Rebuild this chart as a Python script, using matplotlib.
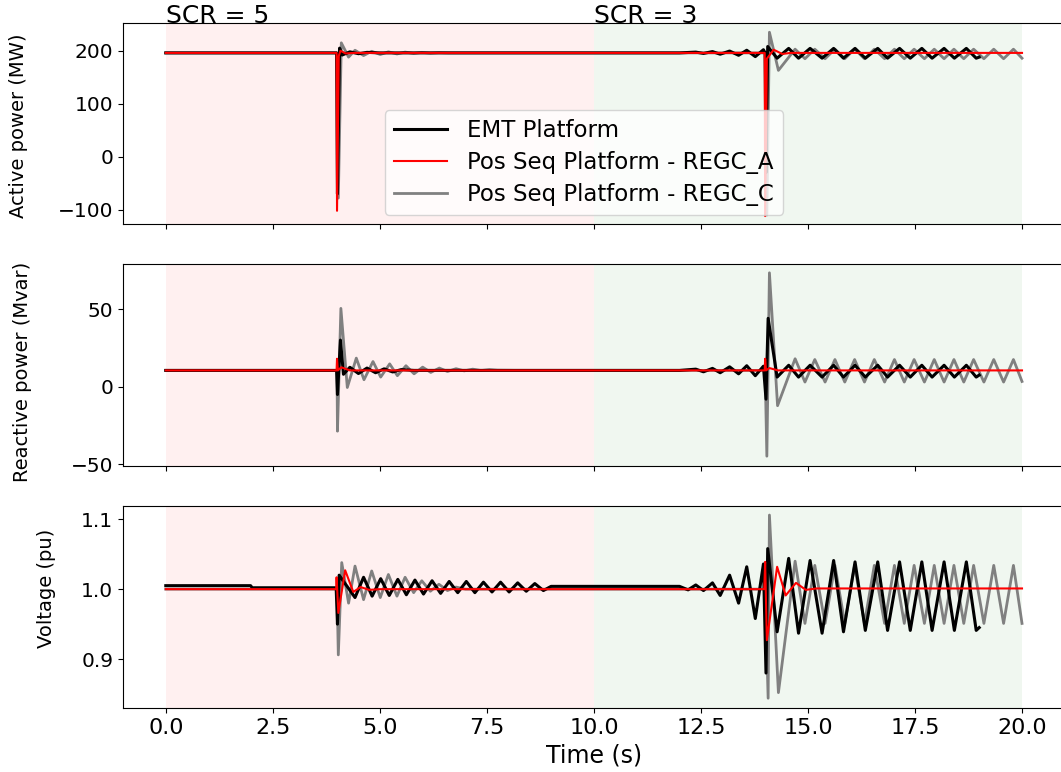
import matplotlib
matplotlib.use('Agg')
import matplotlib.pyplot as plt
import matplotlib.transforms as mtransforms
import numpy as np

# ---- data (key points: steps, spikes, peaks, troughs) ----
labels = ['EMT Platform', 'Pos Seq Platform - REGC_A', 'Pos Seq Platform - REGC_C']
scr_labels = ['SCR = 5', 'SCR = 3']
scr_start = [0.0, 10.0]
scr_end = [10.0, 20.0]
xticks = [0.0, 2.5, 5.0, 7.5, 10.0, 12.5, 15.0, 17.5, 20.0]

# active power (MW)
p_emt_t = [0.0, 3.99, 4.01, 4.06, 4.12, 4.30, 4.50, 4.70, 5.00, 12.0, 12.38, 12.56, 12.77, 12.95, 13.17,
           13.38, 13.57, 13.77, 13.96, 14.00, 14.02, 14.06, 14.28, 14.55, 14.78, 15.05, 15.33, 15.60,
           15.83, 16.10, 16.34, 16.63, 16.86, 17.14, 17.39, 17.66, 17.90, 18.18, 18.42, 18.70, 18.93, 19.00]
p_emt = [196, 196, -70, 205, 192, 198, 194.5, 197, 196, 196, 197.5, 195, 198.5, 193.5, 199.5,
         191.5, 201, 189, 202, 196, -30, 208, 186, 204.5, 186, 204.5, 186, 204.5,
         186, 204.5, 186, 204.5, 186, 204.5, 186, 204.5, 186, 204.5, 186, 204.5, 186, 188]
p_rega_t = [0.0, 3.99, 4.00, 4.04, 4.08, 4.20, 4.40, 13.99, 14.00, 14.04, 14.20, 14.40, 14.60, 20.0]
p_rega = [196, 196, -102, 190, 200, 195, 196, 196, -112, 185, 202, 194, 196, 196]
p_regc_t = [0.0, 4.00, 4.03, 4.10, 4.27, 4.42, 4.62, 4.81, 5.01, 5.20, 5.40, 5.59, 5.79, 5.98, 6.18,
            6.38, 6.60, 14.00, 14.04, 14.10, 14.31, 14.70, 14.93, 15.16, 15.40, 15.63, 15.86, 16.09,
            16.32, 16.55, 16.79, 17.02, 17.25, 17.48, 17.72, 17.95, 18.18, 18.41, 18.64, 18.87, 19.11,
            19.34, 19.57, 19.80, 20.00]
p_regc = [196, 196, -78, 215, 188, 201, 191, 199, 193, 198, 194, 197.5, 195, 197, 195.5,
          196.5, 196, 196, -110, 235, 163, 203, 185, 203, 185, 203, 185, 203,
          185, 203, 185, 203, 185, 203, 185, 203, 185, 203, 185, 203, 185,
          203, 185, 203, 186]

# reactive power (Mvar)
q_emt_t = [0.0, 3.99, 4.01, 4.08, 4.15, 4.30, 4.50, 4.70, 4.90, 5.10, 5.30, 5.50, 5.80, 12.0, 12.38,
           12.56, 12.77, 12.95, 13.17, 13.38, 13.57, 13.77, 13.96, 14.02, 14.07, 14.28, 14.55, 14.78,
           15.05, 15.33, 15.60, 15.83, 16.10, 16.34, 16.63, 16.86, 17.14, 17.39, 17.66, 17.90, 18.18,
           18.42, 18.70, 18.93, 19.00]
q_emt = [10.5, 10.5, -5, 30, 8, 12.5, 8.5, 12, 9, 11.5, 9.5, 11, 10.5, 10.5, 11.3,
         9.6, 11.8, 9.0, 12.8, 8.3, 13.5, 7.1, 13.2, -8, 44, 6.2, 13.8, 6.2,
         13.8, 6.2, 13.8, 6.2, 13.8, 6.2, 13.8, 6.2, 13.8, 6.2, 13.8, 6.2, 13.8,
         6.2, 13.8, 6.2, 7.5]
q_rega_t = [0.0, 3.99, 4.00, 4.02, 4.10, 4.30, 13.99, 14.00, 14.02, 14.10, 14.30, 20.0]
q_rega = [10.5, 10.5, 18, 10.5, 12.5, 10.5, 10.5, 18, 10.5, 12, 10.5, 10.5]
q_regc_t = [0.0, 4.00, 4.01, 4.09, 4.24, 4.45, 4.63, 4.84, 5.02, 5.23, 5.41, 5.61, 5.80, 6.00, 6.19,
            6.39, 6.58, 6.78, 6.97, 7.17, 7.36, 7.56, 7.75, 8.20, 14.00, 14.04, 14.10, 14.29, 14.70,
            14.93, 15.16, 15.40, 15.63, 15.86, 16.09, 16.32, 16.55, 16.79, 17.02, 17.25, 17.48, 17.72,
            17.95, 18.18, 18.41, 18.64, 18.87, 19.11, 19.34, 19.57, 19.80, 20.00]
q_regc = [10.5, 10.5, -28.6, 50.4, -0.5, 18.4, 4.5, 16.2, 6.2, 14.7, 7.1, 13.5, 8.3, 12.6, 9.2,
          12.0, 9.8, 11.6, 10.2, 11.3, 10.4, 11.0, 10.6, 10.5, 10.5, -44.7, 73.3, -12.2, 18,
          3, 17.5, 3, 17.5, 3, 17.5, 3, 17.5, 3, 17.5, 3, 17.5, 3,
          17.5, 3, 17.5, 3, 17.5, 3, 17.5, 3, 17.5, 3.4]

# voltage (pu)
v_emt_t = [0.0, 1.98, 2.02, 3.98, 4.01, 4.05, 4.42, 4.62, 4.82, 5.02, 5.22, 5.42, 5.62, 5.82, 6.02,
           6.22, 6.42, 6.62, 6.82, 7.02, 7.22, 7.42, 7.62, 7.82, 8.02, 8.22, 8.42, 8.62, 8.82, 9.00,
           12.0, 12.20, 12.38, 12.56, 12.77, 12.95, 13.17, 13.38, 13.57, 13.77, 13.96, 14.02, 14.06,
           14.28, 14.55, 14.78, 15.05, 15.33, 15.60, 15.83, 16.10, 16.34, 16.63, 16.86, 17.14, 17.39,
           17.66, 17.90, 18.18, 18.42, 18.70, 18.93, 19.00]
v_emt = [1.005, 1.005, 1.002, 1.002, 0.95, 1.02, 0.988, 1.017, 0.990, 1.015, 0.991, 1.014, 0.992, 1.013, 0.993,
         1.012, 0.994, 1.011, 0.995, 1.011, 0.995, 1.010, 0.996, 1.010, 0.996, 1.009, 0.997, 1.008, 0.998, 1.004,
         1.004, 0.999, 1.006, 0.998, 1.009, 0.991, 1.020, 0.980, 1.032, 0.958, 1.036, 0.88, 1.058,
         0.939, 1.044, 0.937, 1.041, 0.937, 1.041, 0.939, 1.039, 0.941, 1.039, 0.941, 1.039, 0.941,
         1.039, 0.941, 1.039, 0.941, 1.039, 0.941, 0.945]
v_rega_t = [0.0, 3.98, 3.99, 4.03, 4.19, 4.38, 4.55, 4.75, 5.00, 13.98, 14.00, 14.04, 14.28, 14.48,
            14.72, 14.95, 15.20, 20.0]
v_rega = [1.0, 1.0, 1.017, 0.966, 1.027, 0.996, 1.003, 0.999, 1.0, 1.0, 1.039, 0.927, 1.032, 0.991,
          1.009, 0.999, 1.001, 1.001]
v_regc_t = [0.0, 4.00, 4.03, 4.11, 4.27, 4.42, 4.62, 4.81, 5.01, 5.20, 5.40, 5.59, 5.79, 5.98, 6.18,
            6.38, 6.58, 6.78, 7.00, 14.00, 14.07, 14.10, 14.31, 14.70, 14.93, 15.16, 15.40, 15.63, 15.86,
            16.09, 16.32, 16.55, 16.79, 17.02, 17.25, 17.48, 17.72, 17.95, 18.18, 18.41, 18.64, 18.87,
            19.11, 19.34, 19.57, 19.80, 20.00]
v_regc = [1.0, 1.0, 0.906, 1.038, 0.980, 1.033, 0.985, 1.026, 0.988, 1.021, 0.990, 1.017, 0.995, 1.012, 0.997,
          1.007, 0.998, 1.003, 1.0, 1.0, 0.844, 1.106, 0.852, 1.040, 0.951, 1.034, 0.951, 1.034, 0.951,
          1.034, 0.951, 1.034, 0.951, 1.034, 0.951, 1.034, 0.951, 1.034, 0.951, 1.034, 0.951, 1.034,
          0.951, 1.034, 0.951, 1.034, 0.951]

# ---- plot ----
plt.rcParams['font.family'] = 'DejaVu Sans'
plt.rcParams['font.size'] = 14
plt.rcParams['xtick.labelsize'] = 16
plt.rcParams['ytick.labelsize'] = 14.5

fig = plt.figure(figsize=(10.61, 7.72), dpi=100)
ax1 = fig.add_axes([0.1159, 0.7098, 0.8877, 0.2608])
ax2 = fig.add_axes([0.1159, 0.3964, 0.8877, 0.2617], sharex=ax1)
ax3 = fig.add_axes([0.1159, 0.0829, 0.8877, 0.2617], sharex=ax1)

panels = [
    (ax1, [(p_emt_t, p_emt), (p_rega_t, p_rega), (p_regc_t, p_regc)], 'Active power (MW)', (-127, 253), [-100, 0, 100, 200], -0.101, 0.49),
    (ax2, [(q_emt_t, q_emt), (q_rega_t, q_rega), (q_regc_t, q_regc)], 'Reactive power (Mvar)', (-51, 79), [-50, 0, 50], -0.097, 0.465),
    (ax3, [(v_emt_t, v_emt), (v_rega_t, v_rega), (v_regc_t, v_regc)], 'Voltage (pu)', (0.83, 1.119), [0.9, 1.0, 1.1], -0.071, 0.594),
]
colors = ['black', 'red', 'gray']
widths = [2.2, 1.5, 2.0]
zorders = [3, 4, 2]

for ax, series, ylab, ylim, yticks, lx, ly in panels:
    ax.axvspan(scr_start[0], scr_end[0], color='red', alpha=0.06, lw=0, zorder=0)
    ax.axvspan(scr_start[1], scr_end[1], color='green', alpha=0.06, lw=0, zorder=0)
    for (t, y), c, lw, zo, lab in zip(series, colors, widths, zorders, labels):
        ax.plot(t, y, color=c, lw=lw, zorder=zo, label=lab)
    ax.set_ylim(*ylim)
    ax.set_yticks(yticks)
    ax.set_ylabel(ylab, fontsize=14)
    ax.yaxis.set_label_coords(lx, ly)

ax1.set_xlim(-1, 21)
ax3.set_xticks(xticks)
ax3.set_xticklabels(['%.1f' % x for x in xticks])
plt.setp(ax1.get_xticklabels(), visible=False)
plt.setp(ax2.get_xticklabels(), visible=False)
ax3.set_xlabel('Time (s)', fontsize=17)

trans = mtransforms.blended_transform_factory(ax1.transData, ax1.transAxes)
for x0, s in zip(scr_start, scr_labels):
    ax1.text(x0, 1.0, s, transform=trans, ha='left', va='baseline', fontsize=18)

ax1.legend(loc='lower left', bbox_to_anchor=(0.278, 0.045), borderaxespad=0, fontsize=16.5,
           handlelength=2.3, handletextpad=0.9, labelspacing=0.38, borderpad=0.4)

fig.savefig('out.png', dpi=100)
